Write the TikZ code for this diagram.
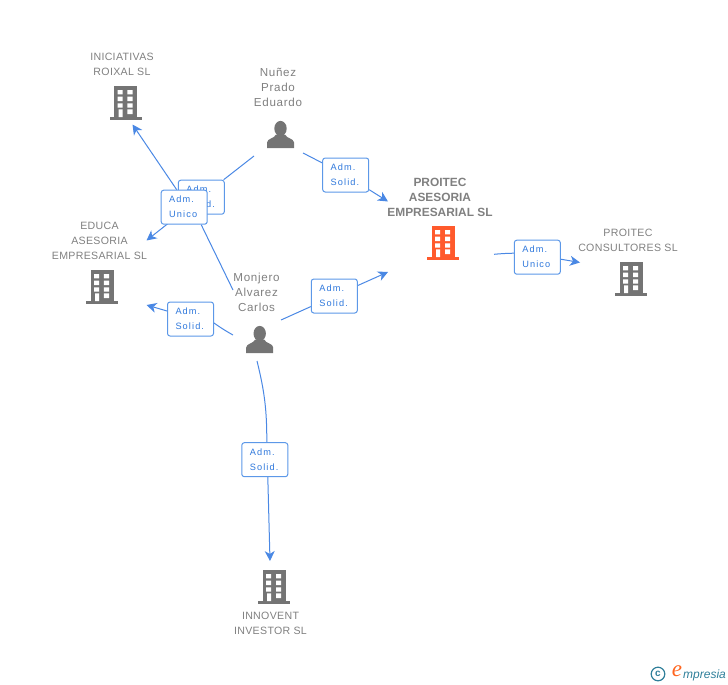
\documentclass[tikz,border=0pt]{standalone}
\usepackage{fontspec}
\setmainfont{Liberation Sans}
\newfontfamily\boxfont[LetterSpace=12]{Liberation Sans}
\newfontfamily\labfont[LetterSpace=3]{Liberation Sans}
\newfontfamily\namefont[LetterSpace=6]{Liberation Sans}
\newfontfamily\logoe{Liberation Serif}
\usetikzlibrary{arrows.meta,backgrounds}
\definecolor{icongray}{HTML}{747474}
\definecolor{textgray}{HTML}{808080}
\definecolor{linkblue}{HTML}{4A88E4}
\definecolor{boxblue}{HTML}{5C98E8}
\definecolor{labblue}{HTML}{2F78DC}
\definecolor{hot}{HTML}{FF5A2C}
\definecolor{teal1}{HTML}{2F7F9A}
\tikzset{
  x=1pt,y=-1pt,
  link/.style={draw=linkblue,line width=1pt},
  arrowlink/.style={link,-{Stealth[length=10pt,width=10pt,inset=3pt]}},
  rolebox/.style={draw=boxblue,line width=1pt,rounded corners=2.5pt,fill=white,
    minimum width=46pt,minimum height=34pt,inner sep=0pt,text=labblue},
  caption/.style={align=center,text=textgray,inner sep=0pt,font=\labfont\fontsize{10.6}{15}\selectfont},
  namecaption/.style={caption,font=\namefont\fontsize{11.6}{15}\selectfont},
  boldcaption/.style={caption,font=\bfseries\fontsize{11.9}{15}\selectfont},
  holder/.style={inner sep=0pt,minimum width=32pt,minimum height=34pt},
  pics/building/.style={code={
    \fill[#1] (-11.5,-17) rectangle (11.5,14);
    \fill[#1] (-16,14) rectangle (16,17);
    \fill[white]
      (-8,-13) rectangle (-3,-8.7) (1.8,-13) rectangle (7,-8.7)
      (-8,-6.3) rectangle (-3,-2) (1.8,-6.3) rectangle (7,-2)
      (-8,0.3) rectangle (-3,4.6) (1.8,0.3) rectangle (7,4.6)
      (-7,6.3) rectangle (-3,14) (1.8,6.3) rectangle (7,11);
  }},
  pics/person/.style={code={
    \fill[icongray] (0,-6) ellipse (6.2 and 7.6);
    \fill[icongray] (-13.5,13.5) -- (-13.5,8) .. controls (-13.5,4) and (-6,4) .. (-4.5,0)
      -- (4.5,0) .. controls (6,4) and (13.5,4) .. (13.5,8) -- (13.5,13.5) -- cycle;
  }}
}
\newcommand{\rolelabel}[2]{\parbox{30pt}{\boxfont\fontsize{9.2}{15}\selectfont #1\\#2}}
\begin{document}
\begin{tikzpicture}
\useasboundingbox (0,0) rectangle (728,685);
% icons
\node[holder] (ini) at (125.5,103) {};
\node[holder] (edu) at (102,287) {};
\node[holder] (pro) at (443.2,243) {};
\node[holder] (con) at (631.2,279) {};
\node[holder] (inn) at (274.2,587) {};
\node[holder,minimum width=27pt,minimum height=27pt] (nun) at (280.5,134.5) {};
\node[holder,minimum width=27pt,minimum height=27pt] (mon) at (259.7,339.5) {};
\pic at (ini) {building=icongray};
\pic at (edu) {building=icongray};
\pic at (pro) {building=hot};
\pic at (con) {building=icongray};
\pic at (inn) {building=icongray};
\pic at (nun) {person};
\pic at (mon) {person};
% captions
\node[caption] (tini) at (122,64.5) {INICIATIVAS\\ROIXAL SL};
\node[namecaption] (tnun) at (278,87) {Nuñez\\Prado\\Eduardo};
\node[caption] (tedu) at (99.5,241) {EDUCA\\ASESORIA\\EMPRESARIAL SL};
\node[namecaption] (tmon) at (256.5,292) {Monjero\\Alvarez\\Carlos};
\node[boldcaption] (tpro) at (440,197) {PROITEC\\ASESORIA\\EMPRESARIAL SL};
\node[caption] (tcon) at (628,240.5) {PROITEC\\CONSULTORES SL};
\node[caption] (tinn) at (270.5,623.5) {INNOVENT\\INVESTOR SL};
% role boxes
\node[rolebox] (bsh) at (201.3,197.2) {\rolelabel{Adm.}{Solid.}};
\node[rolebox] (bun) at (184.2,207.2) {\rolelabel{Adm.}{Unico}};
\node[rolebox] (bnp) at (345.7,175) {\rolelabel{Adm.}{Solid.}};
\node[rolebox] (bmp) at (334.3,296) {\rolelabel{Adm.}{Solid.}};
\node[rolebox] (bpc) at (537.3,257.2) {\rolelabel{Adm.}{Unico}};
\node[rolebox] (bme) at (190.5,319) {\rolelabel{Adm.}{Solid.}};
\node[rolebox] (bmi) at (264.8,459.7) {\rolelabel{Adm.}{Solid.}};
% connector ends
\coordinate (nunA) at (254,156);
\coordinate (nunB) at (303,153);
\coordinate (monA) at (233,290);
\coordinate (monB) at (281,320);
\coordinate (monC) at (233,335);
\coordinate (monD) at (257,361);
\coordinate (proA) at (494,254.3);
\coordinate (tipIni) at (132.5,124.5);
\coordinate (tipEdu) at (146.5,240.5);
\coordinate (tipPro) at (388,201.5);
\coordinate (tipPro2) at (388,272);
\coordinate (tipCon) at (580,262.5);
\coordinate (tipEdu2) at (146.5,305);
\coordinate (tipInn) at (270,561);
\begin{scope}[on background layer]
  \draw[link] (nunA) -- (bsh);
  \draw[arrowlink] (bsh) -- (tipEdu);
  \draw[link] (monA) -- ([xshift=17pt]bun.south);
  \draw[arrowlink] ([xshift=-7.5pt]bun.north) -- (tipIni);
  \draw[link] (nunB) -- (bnp);
  \draw[arrowlink] (bnp) -- (tipPro);
  \draw[link] (monB) -- (bmp);
  \draw[arrowlink] (bmp) -- (tipPro2);
  \draw[link] (proA) to[bend left=2] ([yshift=4pt]bpc.west);
  \draw[arrowlink] ([yshift=-2pt]bpc.east) -- (tipCon);
  \draw[link] (monC) to[bend left=3] ([yshift=-4pt]bme.east);
  \draw[arrowlink] ([yshift=8pt]bme.west) -- (tipEdu2);
  \draw[link] (monD) to[bend left=7] ([xshift=2pt]bmi.north);
  \draw[arrowlink] ([xshift=3pt]bmi.south) -- (tipInn);
\end{scope}
% logo
\draw[teal1,line width=1.2pt] (658,674) circle (6.8);
\node[text=teal1,inner sep=0pt,font=\bfseries\fontsize{10}{10}\selectfont] (logoC) at (658,673.5) {c};
\node[text=hot!70!orange,inner sep=0pt,font=\logoe\itshape\fontsize{23}{23}\selectfont] (logoE) at (677,671.5) {e};
\node[text=teal1,inner sep=0pt,anchor=west,font=\itshape\fontsize{12}{12}\selectfont] (logoT) at (683,675) {mpresia};
\end{tikzpicture}
\end{document}
